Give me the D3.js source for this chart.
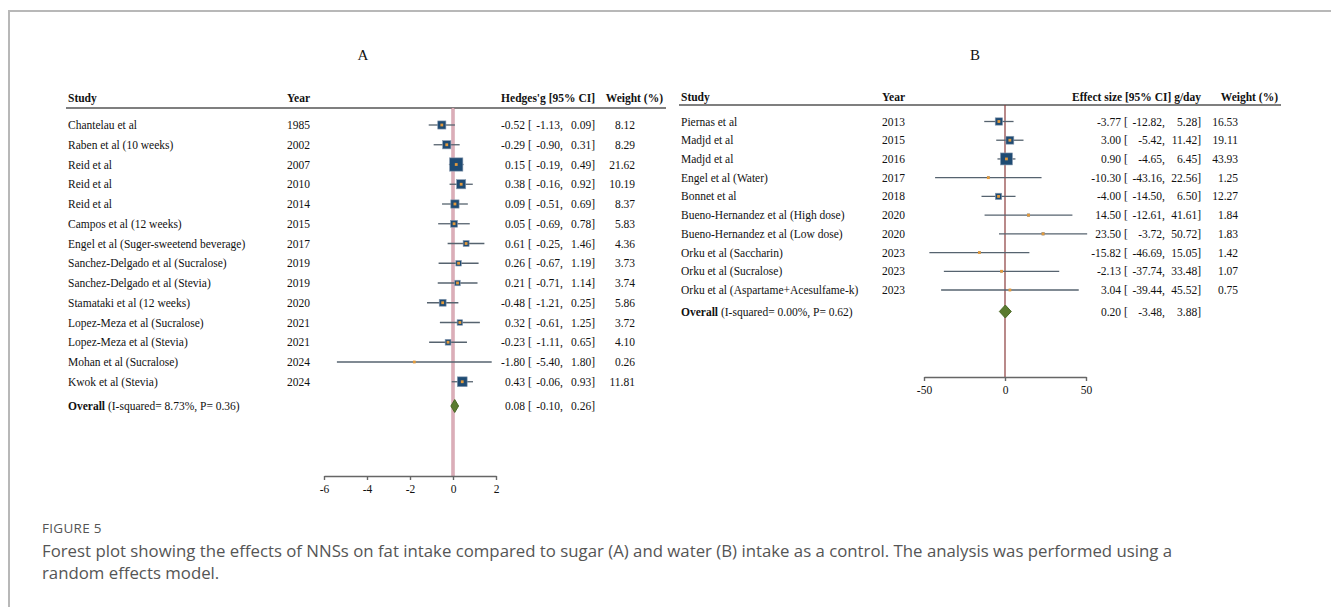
<!DOCTYPE html>
<html>
<head>
<meta charset="utf-8">
<script src="https://cdn.jsdelivr.net/npm/d3@7"></script>
<style>
  body { margin: 0; background: #fff; }
  svg { display: block; }
  .cap { font-family: "Open Sans", "Noto Sans", sans-serif; fill: #555; }
</style>
</head>
<body>
<svg id="chart" width="1331" height="607"></svg>
<script>
// ---- panel A : NNS vs sugar ----
const studiesA = ["Chantelau et al", "Raben et al (10 weeks)", "Reid et al", "Reid et al", "Reid et al",
  "Campos et al (12 weeks)", "Engel et al (Suger-sweetend beverage)", "Sanchez-Delgado et al (Sucralose)",
  "Sanchez-Delgado et al (Stevia)", "Stamataki et al (12 weeks)", "Lopez-Meza et al (Sucralose)",
  "Lopez-Meza et al (Stevia)", "Mohan et al (Sucralose)", "Kwok et al (Stevia)"]
const yearsA = [1985, 2002, 2007, 2010, 2014, 2015, 2017, 2019, 2019, 2020, 2021, 2021, 2024, 2024]
const esA = [-0.52, -0.29, 0.15, 0.38, 0.09, 0.05, 0.61, 0.26, 0.21, -0.48, 0.32, -0.23, -1.80, 0.43]
const loA = [-1.13, -0.90, -0.19, -0.16, -0.51, -0.69, -0.25, -0.67, -0.71, -1.21, -0.61, -1.11, -5.40, -0.06]
const hiA = [0.09, 0.31, 0.49, 0.92, 0.69, 0.78, 1.46, 1.19, 1.14, 0.25, 1.25, 0.65, 1.80, 0.93]
const weightA = [8.12, 8.29, 21.62, 10.19, 8.37, 5.83, 4.36, 3.73, 3.74, 5.86, 3.72, 4.10, 0.26, 11.81]
const overallA = [0.08, -0.10, 0.26]
const overallTextA = " (I-squared= 8.73%, P= 0.36)"
const ticksA = [-6, -4, -2, 0, 2]

// ---- panel B : NNS vs water ----
const studiesB = ["Piernas et al", "Madjd et al", "Madjd et al", "Engel et al (Water)", "Bonnet et al",
  "Bueno-Hernandez et al (High dose)", "Bueno-Hernandez et al (Low dose)", "Orku et al (Saccharin)",
  "Orku et al (Sucralose)", "Orku et al (Aspartame+Acesulfame-k)"]
const yearsB = [2013, 2015, 2016, 2017, 2018, 2020, 2020, 2023, 2023, 2023]
const esB = [-3.77, 3.00, 0.90, -10.30, -4.00, 14.50, 23.50, -15.82, -2.13, 3.04]
const loB = [-12.82, -5.42, -4.65, -43.16, -14.50, -12.61, -3.72, -46.69, -37.74, -39.44]
const hiB = [5.28, 11.42, 6.45, 22.56, 6.50, 41.61, 50.72, 15.05, 33.48, 45.52]
const weightB = [16.53, 19.11, 43.93, 1.25, 12.27, 1.84, 1.83, 1.42, 1.07, 0.75]
const overallB = [0.20, -3.48, 3.88]
const overallTextB = " (I-squared= 0.00%, P= 0.62)"
const ticksB = [-50, 0, 50]

const svg = d3.select("#chart")
// plain hyphen for negatives, as in the stata output
const loc = d3.formatLocale({ decimal: ".", thousands: ",", grouping: [3], currency: ["", ""], minus: "-" })
const f2 = loc.format(".2f")
const fd = loc.format("d")
const serif = "'Liberation Serif', 'Times New Roman', serif"

// figure frame
svg.append("line").attr("x1", 9).attr("x2", 1331).attr("y1", 11).attr("y2", 11)
  .attr("stroke", "#b8b8b8").attr("stroke-width", 2)
svg.append("line").attr("x1", 9).attr("x2", 9).attr("y1", 10).attr("y2", 607)
  .attr("stroke", "#b8b8b8").attr("stroke-width", 2)

function drawPanel(p) {
  const g = svg.append("g").style("font-family", serif).style("font-size", "11.5px").attr("fill", "#111")
  const n = p.studies.length
  const x = d3.scaleLinear().domain(p.domain).range(p.xRange)
  const y = d3.scalePoint().domain(d3.range(n)).range([p.rowTop, p.rowBottom])
  const size = d3.scaleSqrt().domain([0, d3.max(p.weight)]).range([0, p.maxBox])

  g.append("text").attr("x", p.titleX).attr("y", 55).attr("dy", "0.35em")
    .attr("text-anchor", "middle").style("font-size", "15px").text(p.title)

  // header
  const hd = g.append("g").style("font-weight", "bold")
  hd.append("text").attr("x", p.studyX).attr("y", p.headY).attr("dy", "0.35em").text("Study")
  hd.append("text").attr("x", p.yearX).attr("y", p.headY).attr("dy", "0.35em").text("Year")
  hd.append("text").attr("x", p.cols.hi).attr("y", p.headY).attr("dy", "0.35em")
    .attr("text-anchor", "end").text(p.effLabel)
  hd.append("text").attr("x", p.wHeadX).attr("y", p.headY).attr("dy", "0.35em")
    .attr("text-anchor", "end").text("Weight (%)")
  g.append("line").attr("x1", p.studyX - 2).attr("x2", p.wHeadX + 3)
    .attr("y1", p.lineY).attr("y2", p.lineY).attr("stroke", "#555").attr("stroke-width", 1.5)

  // null line
  if (p.pinkNull) {
    g.append("line").attr("x1", x(0)).attr("x2", x(0)).attr("y1", p.lineY).attr("y2", p.axisY)
      .attr("stroke", "#c27c8c").attr("stroke-width", 3)
    g.append("line").attr("x1", x(0)).attr("x2", x(0)).attr("y1", p.lineY).attr("y2", p.axisY)
      .attr("stroke", "#f4dfe4").attr("stroke-width", 1)
  } else {
    g.append("line").attr("x1", x(0)).attr("x2", x(0)).attr("y1", p.lineY).attr("y2", p.axisY)
      .attr("stroke", "#8a3b3b").attr("stroke-width", 1.2)
  }

  const rows = g.selectAll("g.row").data(d3.range(n)).join("g").attr("class", "row")
  rows.append("text").attr("x", p.studyX).attr("y", i => y(i)).attr("dy", "0.35em").text(i => p.studies[i])
  rows.append("text").attr("x", p.yearX).attr("y", i => y(i)).attr("dy", "0.35em").text(i => p.years[i])
  rows.append("line").attr("x1", i => x(p.lo[i])).attr("x2", i => x(p.hi[i]))
    .attr("y1", i => y(i)).attr("y2", i => y(i)).attr("stroke", "#56636f").attr("stroke-width", 1.3)
  rows.append("rect")
    .attr("x", i => x(p.es[i]) - size(p.weight[i]) / 2).attr("y", i => y(i) - size(p.weight[i]) / 2)
    .attr("width", i => size(p.weight[i])).attr("height", i => size(p.weight[i]))
    .attr("fill", "#1f4b73").attr("stroke", "#8a9bb0").attr("stroke-width", 0.6)
  rows.append("rect").attr("x", i => x(p.es[i]) - 1.4).attr("y", i => y(i) - 1.4)
    .attr("width", 2.8).attr("height", 2.8).attr("fill", "#e39a3b")

  function ciText(sel, yy, e, l, h) {
    sel.append("text").attr("x", p.cols.est).attr("y", yy).attr("dy", "0.35em").attr("text-anchor", "end").text(f2(e))
    sel.append("text").attr("x", p.cols.br).attr("y", yy).attr("dy", "0.35em").text("[")
    sel.append("text").attr("x", p.cols.lo).attr("y", yy).attr("dy", "0.35em").attr("text-anchor", "end").text(f2(l) + ",")
    sel.append("text").attr("x", p.cols.hi).attr("y", yy).attr("dy", "0.35em").attr("text-anchor", "end").text(f2(h) + "]")
  }
  rows.each(function (i) {
    const r = d3.select(this)
    ciText(r, y(i), p.es[i], p.lo[i], p.hi[i])
    r.append("text").attr("x", p.cols.w).attr("y", y(i)).attr("dy", "0.35em")
      .attr("text-anchor", "end").text(f2(p.weight[i]))
  })

  // overall
  const [oe, ol, oh] = p.overall
  const ot = g.append("text").attr("x", p.studyX).attr("y", p.overallY).attr("dy", "0.35em")
  ot.append("tspan").style("font-weight", "bold").text("Overall")
  ot.append("tspan").text(p.overallText)
  const hh = 6.5
  g.append("path")
    .attr("d", `M${x(ol)},${p.overallY} L${x(oe)},${p.overallY - hh} L${x(oh)},${p.overallY} L${x(oe)},${p.overallY + hh} Z`)
    .attr("fill", "#5b7b2f").attr("stroke", "#4a6826").attr("stroke-width", 1)
  ciText(g, p.overallY, oe, ol, oh)

  // axis
  const ax = g.append("g").attr("transform", `translate(0,${p.axisY})`)
    .call(d3.axisBottom(x).tickValues(p.ticks).tickSize(4).tickSizeOuter(0).tickFormat(fd))
  ax.select(".domain").attr("stroke", "#666").attr("stroke-width", 1.6)
  ax.selectAll(".tick line").attr("stroke", "#666").attr("stroke-width", 1.4)
  ax.selectAll(".tick text").attr("fill", "#111").attr("y", 9)
    .style("font-family", serif).style("font-size", "11.5px")
}

drawPanel({
  title: "A", titleX: 363, studies: studiesA, years: yearsA, es: esA, lo: loA, hi: hiA, weight: weightA,
  overall: overallA, overallText: overallTextA, ticks: ticksA, domain: [-6, 2], xRange: [324, 496],
  rowTop: 125, rowBottom: 381.75, overallY: 406, axisY: 476, headY: 98, lineY: 108,
  studyX: 68, yearX: 287, wHeadX: 663, maxBox: 13.3, pinkNull: true,
  effLabel: "Hedges'g [95% CI]", cols: { est: 525, br: 528, lo: 563, hi: 595, w: 635 }
})

drawPanel({
  title: "B", titleX: 975, studies: studiesB, years: yearsB, es: esB, lo: loB, hi: hiB, weight: weightB,
  overall: overallB, overallText: overallTextB, ticks: ticksB, domain: [-50, 50], xRange: [924, 1086],
  rowTop: 121.5, rowBottom: 290, overallY: 311.5, axisY: 377, headY: 97, lineY: 105,
  studyX: 681, yearX: 882, wHeadX: 1278, maxBox: 12, pinkNull: false,
  effLabel: "Effect size [95% CI] g/day", cols: { est: 1121, br: 1124, lo: 1165, hi: 1201, w: 1238 }
})

// caption
svg.append("text").attr("class", "cap").attr("x", 42).attr("y", 528).attr("dy", "0.35em")
  .style("font-size", "13.5px").style("letter-spacing", "0.3px").text("FIGURE 5")
const capLines = ["Forest plot showing the effects of NNSs on fat intake compared to sugar (A) and water (B) intake as a control. The analysis was performed using a",
  "random effects model."]
svg.selectAll("text.capl").data(capLines).join("text").attr("class", "cap capl")
  .attr("x", 42).attr("y", (d, i) => 551 + i * 22.5).attr("dy", "0.35em")
  .style("font-size", "16.8px").text(d => d)
</script>
</body>
</html>
